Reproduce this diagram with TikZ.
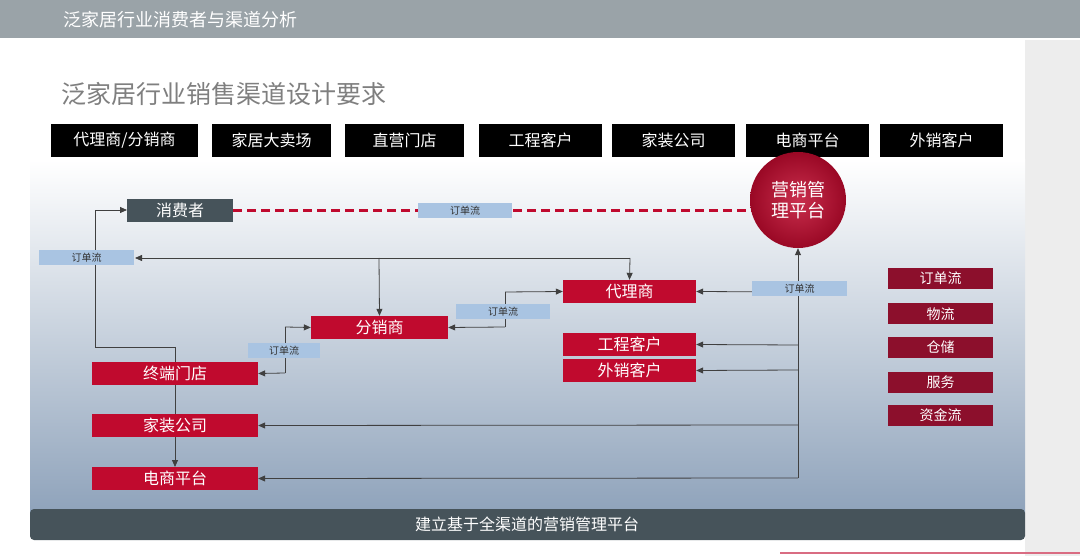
\documentclass[tikz,border=0pt]{standalone}
\usepackage{fontspec}
\setmainfont{Noto Sans CJK SC}
\usetikzlibrary{arrows.meta}
\definecolor{topg}{HTML}{9AA3A8}
\definecolor{ttl}{HTML}{7F7F7F}
\definecolor{rd}{HTML}{C00A2E}
\definecolor{drd}{HTML}{8C0F2C}
\definecolor{dk}{HTML}{46535A}
\definecolor{lb}{HTML}{A9C4E2}
\definecolor{pbot}{HTML}{8FA3BB}
\tikzset{
 blk/.style={fill=black,text=white,minimum height=33pt,font=\fontsize{16}{16}\selectfont,inner sep=0pt},
 rbox/.style={fill=rd,text=white,minimum height=23pt,font=\fontsize{16}{16}\selectfont,inner sep=0pt},
 lg/.style={fill=drd,text=white,minimum width=105pt,minimum height=21pt,font=\fontsize{14}{14}\selectfont,inner sep=0pt},
 lbl/.style={fill=lb,text=black!80,minimum height=15pt,font=\fontsize{10}{10}\selectfont,inner sep=0pt},
 ar/.style={draw=black!75,line width=0.8pt,-{Triangle[length=7pt,width=6pt]}},
 ln/.style={draw=black!75,line width=0.8pt},
}
\begin{document}
\begin{tikzpicture}[x=1pt,y=-1pt]
\useasboundingbox (0,0) rectangle (1080,556);
\fill[white] (0,0) rectangle (1080,556);
\fill[black!7] (1025,40) rectangle (1080,556);
\fill[topg] (0,0) rectangle (1080,38);
\node[anchor=west,text=white,font=\fontsize{18}{18}\selectfont] (hdr) at (60,20) {泛家居行业消费者与渠道分析};
\node[anchor=west,text=ttl,font=\fontsize{25}{25}\selectfont] (title) at (58,94) {泛家居行业销售渠道设计要求};
\shade[top color=white,bottom color=pbot] (30,160) rectangle (1025,512);
\fill[white] (30,124) rectangle (1025,160);
\draw[rd!60,line width=1.2pt] (780,553) -- (1080,553);
% top row
\node[blk,minimum width=147pt] (t1) at (124.5,140.5) {代理商/分销商};
\node[blk,minimum width=119pt] (t2) at (271.5,140.5) {家居大卖场};
\node[blk,minimum width=119pt] (t3) at (404.5,140.5) {直营门店};
\node[blk,minimum width=123pt] (t4) at (540.5,140.5) {工程客户};
\node[blk,minimum width=123pt] (t5) at (673.5,140.5) {家装公司};
\node[blk,minimum width=123pt] (t6) at (807.5,140.5) {电商平台};
\node[blk,minimum width=123pt] (t7) at (941.5,140.5) {外销客户};
% bottom bar
\fill[dk,rounded corners=4pt] (30,509) rectangle (1025,540);
\node[text=white,font=\fontsize{16}{16}\selectfont] (bar) at (527,524) {建立基于全渠道的营销管理平台};
% left loop connector (behind boxes)
\coordinate (c1) at (95,347);
\coordinate (c2) at (175,347);
\draw[ln] (c2) -- (c1) -- (95,210);
\draw[ar] (95,210) -- (127,210);
\draw[ar] (c2) -- (175,467);
% boxes
\node[rbox,minimum width=166pt] (zd) at (175,373.5) {终端门店};
\node[rbox,minimum width=166pt] (jz) at (175,425.5) {家装公司};
\node[rbox,minimum width=166pt] (ds) at (175,478.5) {电商平台};
\node[rbox,minimum width=137pt] (fx) at (379.5,327.5) {分销商};
\node[rbox,minimum width=133pt] (dl) at (629.5,291.5) {代理商};
\node[rbox,minimum width=133pt] (gc) at (629.5,344.5) {工程客户};
\node[rbox,minimum width=133pt] (wx) at (629.5,370.5) {外销客户};
\node[fill=dk,text=white,minimum width=106pt,minimum height=23pt,font=\fontsize{16}{16}\selectfont,inner sep=0pt] (xf) at (180,210.5) {消费者};
\coordinate (dend) at (752,210.5);
\draw[rd,line width=3pt,dash pattern=on 9pt off 5pt] (xf.east) -- (dend);
\shade[inner color=rd!85!white,outer color=rd!80!black] (798,200) circle (48);
\node[text=white,font=\fontsize{18}{21}\selectfont,align=center,circle,minimum size=96pt] (pt) at (798,200) {营销管\\理平台};
\node[lbl,minimum width=94pt] (l1) at (465,210.5) {订单流};
% order line
\coordinate (o1) at (379,258);
\coordinate (o2) at (630,258);
\draw[ln] (o1) -- (o2);
\draw[ar] (o1) -- (135,258);
\draw[ar] (o1) -- (fx.north);
\draw[ar] (o2) -- (dl.north);
\node[lbl,minimum width=95pt] (l2) at (86.5,257.5) {订单流};
% fx - dl
\coordinate (e1) at (505,327);
\coordinate (e2) at (505,292);
\draw[ln] (e1) -- (e2);
\draw[ar] (e1) -- (fx.east);
\draw[ar] (e2) -- (dl.west);
\node[lbl,minimum width=94pt] (l3) at (503,311.5) {订单流};
% zd - fx
\coordinate (f1) at (285,373);
\coordinate (f2) at (285,327);
\draw[ln] (f1) -- (f2);
\draw[ar] (f1) -- (zd.east);
\draw[ar] (f2) -- (fx.west);
\node[lbl,minimum width=72pt] (l4) at (284,351) {订单流};
% platform trunk
\coordinate (v0) at (798,478);
\draw[ar] (v0) -- (pt.south);
\draw[ar] (798,292) -- (dl.east);
\draw[ar] (798,345) -- (gc.east);
\draw[ar] (798,370) -- (wx.east);
\draw[ar] (798,425) -- (jz.east);
\draw[ar] (v0) -- (ds.east);
\node[lbl,minimum width=95pt] (l5) at (799.5,288.5) {订单流};
% legend
\node[lg] (g1) at (940.5,278.5) {订单流};
\node[lg] (g2) at (940.5,314) {物流};
\node[lg] (g3) at (940.5,347.5) {仓储};
\node[lg] (g4) at (940.5,382.5) {服务};
\node[lg] (g5) at (940.5,415.5) {资金流};
\end{tikzpicture}
\end{document}
